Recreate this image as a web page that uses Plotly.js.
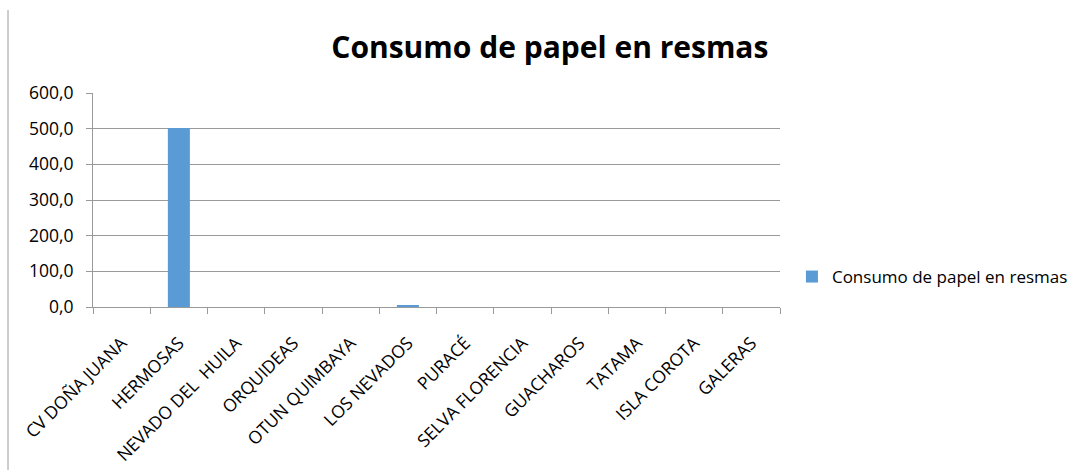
<!DOCTYPE html>
<html>
<head>
<meta charset="utf-8">
<script src="https://cdn.plot.ly/plotly-3.0.1.min.js"></script>
<style>
  html, body { margin: 0; padding: 0; background: #ffffff; }
  #chart { width: 1076px; height: 475px; }
</style>
</head>
<body>
<div id="chart"></div>
<script>
// Paper consumption (reams) per protected area
const areas = [
  "CV DOÑA JUANA", "HERMOSAS", "NEVADO DEL  HUILA", "ORQUIDEAS",
  "OTUN QUIMBAYA", "LOS NEVADOS", "PURACÉ", "SELVA FLORENCIA",
  "GUACHAROS", "TATAMA", "ISLA COROTA", "GALERAS"
];
const resmas = [0, 502, 0, 0, 0, 5, 0, 0, 0, 0, 0, 0];
const seriesName = "Consumo de papel en resmas";
const yTicks = [0, 100, 200, 300, 400, 500, 600];

const FONT = "Open Sans, Noto Sans, sans-serif";
const AXIS_GREY = "#9a9a9a";

const trace = {
  type: "bar",
  x: areas,
  y: resmas,
  name: seriesName,
  marker: { color: "#5b9bd5" },
  hoverinfo: "x+y"
};

const layout = {
  width: 1076,
  height: 475,
  margin: { l: 93, r: 296, t: 93, b: 168, autoexpand: false },
  paper_bgcolor: "#ffffff",
  plot_bgcolor: "#ffffff",
  separators: ",.",
  font: { family: FONT, size: 17, color: "#000000" },
  title: {
    text: "<b>Consumo de papel en resmas</b>",
    font: { family: FONT, size: 30, color: "#000000" },
    xref: "paper",
    x: 0.665,
    xanchor: "center",
    yref: "container",
    y: 0.9,
    yanchor: "middle"
  },
  bargap: 0.615,
  showlegend: true,
  legend: {
    xref: "container",
    yref: "container",
    x: 0.736,
    xanchor: "left",
    y: 1 - 277 / 475,
    yanchor: "middle",
    font: { family: FONT, size: 17, color: "#000000" },
    itemwidth: 30
  },
  xaxis: {
    type: "category",
    tickangle: -45,
    ticks: "outside",
    tickson: "boundaries",
    ticklen: 6,
    tickcolor: AXIS_GREY,
    showline: true,
    linecolor: AXIS_GREY,
    linewidth: 1,
    showgrid: false,
    ticklabelstandoff: 18,
    tickfont: { family: FONT, size: 17.5, color: "#000000" },
    fixedrange: true
  },
  yaxis: {
    range: [0, 600],
    tickvals: yTicks,
    tickformat: ".1f",
    ticks: "outside",
    ticklen: 6,
    tickcolor: AXIS_GREY,
    showline: true,
    linecolor: AXIS_GREY,
    linewidth: 1,
    showgrid: true,
    gridcolor: AXIS_GREY,
    gridwidth: 1,
    zeroline: false,
    ticklabelstandoff: 9,
    tickfont: { family: FONT, size: 17.5, color: "#000000" },
    fixedrange: true
  },
  shapes: [
    {
      // thin frame line on the left edge of the sheet
      type: "line",
      xref: "paper",
      yref: "paper",
      x0: -85 / 687, x1: -85 / 687,
      y0: -163 / 214, y1: 297 / 214,
      line: { color: AXIS_GREY, width: 1 }
    }
  ]
};

Plotly.newPlot("chart", [trace], layout, { displayModeBar: false });
</script>
</body>
</html>
